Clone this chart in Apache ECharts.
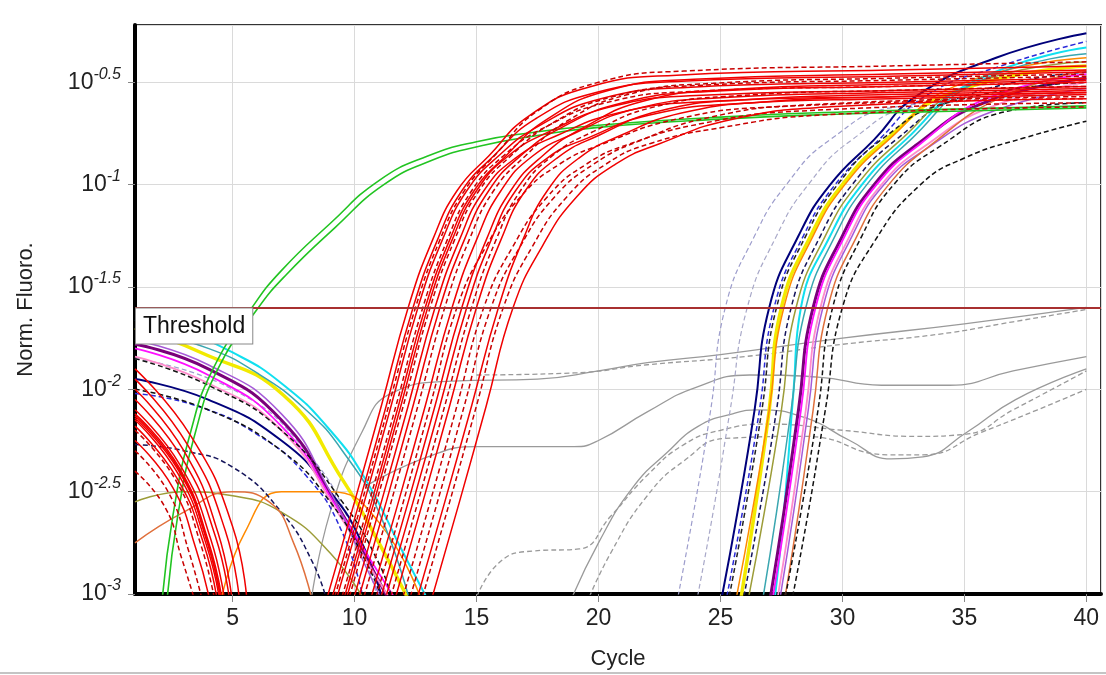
<!DOCTYPE html>
<html>
<head>
<meta charset="utf-8">
<script src="https://cdn.jsdelivr.net/npm/echarts@6/dist/echarts.min.js"></script>
<style>
  html, body { margin: 0; padding: 0; background: #fff; }
  #chart { width: 1106px; height: 675px; }
</style>
</head>
<body>
<div id="chart"></div>
<script>
// values are log10(Norm. Fluoro.); x is the cycle

// threshold level (log10)
const thresholdLevel = -1.603;

// red wells (early Ct): rising part
const redRise = [
  [[8.8,-3.05],[10.0,-2.55],[11.1,-2.08],[12.2,-1.6],[13.2,-1.27],[14.2,-1.03],[15.5,-0.86],[17.2,-0.66],[19.7,-0.52],[23.2,-0.465],[32,-0.44],[40,-0.42]],
  [[9.0,-3.05],[10.2,-2.55],[11.3,-2.08],[12.4,-1.6],[13.4,-1.27],[14.4,-1.03],[15.7,-0.86],[17.4,-0.68],[19.9,-0.55],[23.4,-0.495],[32,-0.47],[40,-0.45]],
  [[9.1,-3.05],[10.3,-2.55],[11.4,-2.08],[12.5,-1.6],[13.5,-1.27],[14.5,-1.03],[15.8,-0.85],[17.5,-0.64],[20,-0.5],[23.5,-0.445],[32,-0.42],[40,-0.40]],
  [[9.2,-3.05],[10.4,-2.55],[11.5,-2.08],[12.6,-1.6],[13.6,-1.27],[14.6,-1.03],[15.9,-0.86],[17.6,-0.71],[20.1,-0.58],[23.6,-0.525],[32,-0.5],[40,-0.48]],
  [[9.4,-3.05],[10.6,-2.55],[11.7,-2.08],[12.8,-1.6],[13.8,-1.27],[14.8,-1.03],[16.1,-0.86],[17.8,-0.72],[20.3,-0.6],[23.8,-0.545],[32,-0.52],[40,-0.50]],
  [[9.5,-3.05],[10.7,-2.55],[11.8,-2.08],[12.9,-1.6],[13.9,-1.27],[14.9,-1.03],[16.2,-0.86],[17.9,-0.68],[20.4,-0.54],[23.9,-0.485],[32,-0.46],[40,-0.44]],
  [[9.6,-3.05],[10.8,-2.55],[11.9,-2.08],[13.0,-1.6],[14.0,-1.27],[15.0,-1.03],[16.3,-0.86],[18,-0.74],[20.5,-0.62],[24,-0.565],[32,-0.54],[40,-0.52]],
  [[9.7,-3.05],[10.9,-2.55],[12.0,-2.08],[13.1,-1.6],[14.1,-1.27],[15.1,-1.03],[16.4,-0.86],[18.1,-0.70],[20.6,-0.57],[24.1,-0.515],[32,-0.49],[40,-0.47]],
  [[9.9,-3.05],[11.1,-2.55],[12.2,-2.08],[13.3,-1.6],[14.3,-1.27],[15.3,-1.03],[16.6,-0.87],[18.3,-0.76],[20.8,-0.65],[24.3,-0.595],[32,-0.57],[40,-0.55]],
  [[10.1,-3.05],[11.3,-2.55],[12.4,-2.08],[13.5,-1.6],[14.5,-1.27],[15.5,-1.03],[16.8,-0.86],[18.5,-0.72],[21,-0.6],[24.5,-0.545],[32,-0.52],[40,-0.5]],
  [[10.3,-3.05],[11.5,-2.55],[12.6,-2.08],[13.7,-1.6],[14.7,-1.27],[15.7,-1.03],[17,-0.86],[18.7,-0.69],[21.2,-0.56],[24.7,-0.505],[32,-0.48],[40,-0.46]],
  [[10.6,-3.05],[11.8,-2.55],[12.9,-2.08],[14.0,-1.6],[15.0,-1.27],[16.0,-1.03],[17.3,-0.86],[19,-0.75],[21.5,-0.63],[25,-0.575],[32,-0.55],[40,-0.53]],
  [[10.8,-3.05],[12.0,-2.55],[13.1,-2.08],[14.2,-1.6],[15.4,-1.3],[16.8,-1.06],[18.4,-0.9],[20.2,-0.8],[23.2,-0.68],[27.2,-0.62],[40,-0.58]],
  [[11.0,-3.05],[12.2,-2.55],[13.3,-2.08],[14.4,-1.6],[15.4,-1.27],[16.4,-1.03],[17.7,-0.86],[19.4,-0.72],[21.9,-0.59],[25.4,-0.535],[32,-0.51],[40,-0.49]],
  [[11.2,-3.05],[12.4,-2.55],[13.5,-2.08],[14.6,-1.6],[15.6,-1.27],[16.6,-1.03],[17.9,-0.87],[19.6,-0.77],[22.1,-0.66],[25.6,-0.605],[32,-0.58],[40,-0.56]],
  [[11.4,-3.05],[12.6,-2.55],[13.7,-2.08],[14.8,-1.6],[15.8,-1.27],[16.8,-1.03],[18.1,-0.86],[19.8,-0.74],[22.3,-0.62],[25.8,-0.565],[32,-0.54],[40,-0.52]],
  [[11.6,-3.05],[12.8,-2.55],[13.9,-2.08],[15.0,-1.6],[16.0,-1.27],[17.0,-1.03],[18.3,-0.87],[20,-0.76],[22.5,-0.64],[26,-0.585],[32,-0.56],[40,-0.54]],
  [[11.9,-3.05],[13.1,-2.55],[14.2,-2.08],[15.3,-1.6],[16.5,-1.3],[17.9,-1.06],[19.5,-0.9],[21.3,-0.8],[24.3,-0.7],[28.3,-0.64],[40,-0.60]],
  [[12.2,-3.05],[13.4,-2.55],[14.5,-2.08],[15.6,-1.6],[16.8,-1.3],[18.2,-1.06],[19.8,-0.9],[21.6,-0.79],[24.6,-0.67],[28.6,-0.61],[40,-0.57]],
  [[12.5,-3.05],[13.7,-2.55],[14.8,-2.08],[15.9,-1.6],[16.9,-1.27],[17.9,-1.03],[19.2,-0.87],[20.9,-0.76],[23.4,-0.65],[26.9,-0.595],[32,-0.57],[40,-0.55]],
  [[12.7,-3.05],[13.9,-2.55],[15.0,-2.08],[16.1,-1.6],[17.3,-1.3],[18.7,-1.06],[20.3,-0.9],[22.1,-0.8],[25.1,-0.72],[29.1,-0.66],[40,-0.62]],
  [[13.1,-3.05],[14.3,-2.55],[15.4,-2.08],[16.5,-1.6],[17.7,-1.3],[19.1,-1.06],[20.7,-0.9],[22.5,-0.8],[25.5,-0.68],[29.5,-0.62],[40,-0.58]]
];

// red wells: falling baseline at the start (null = not visible)
const redFall = [
  [[1,-2.13],[2.8,-2.39],[3.95,-2.74],[4.55,-3.05]],
  [[1,-2.05],[2.95,-2.34],[4.3,-2.72],[4.9,-3.05]],
  [[1,-2.2],[2.65,-2.44],[3.7,-2.76],[4.3,-3.05]],
  [[1,-1.95],[3.15,-2.27],[4.7,-2.69],[5.3,-3.05]],
  null,
  [[1,-2.12],[2.8,-2.38],[4.0,-2.74],[4.6,-3.05]],
  [[1,-2.15],[2.75,-2.41],[3.9,-2.75],[4.5,-3.05]],
  [[1,-2.3],[2.4,-2.51],[3.2,-2.79],[3.8,-3.05]],
  [[1,-2.18],[2.7,-2.43],[3.8,-2.75],[4.4,-3.05]],
  [[1,-1.9],[3.3,-2.23],[5.0,-2.67],[5.6,-3.05]],
  null,
  [[1,-2.1],[2.85,-2.37],[4.1,-2.73],[4.7,-3.05]],
  [[1,-2.4],[2.25,-2.58],[2.9,-2.82],[3.5,-3.05]],
  [[1,-2.14],[2.8,-2.4],[3.95,-2.74],[4.55,-3.05]],
  [[1,-2.0],[3.0,-2.3],[4.4,-2.7],[5.0,-3.05]],
  null,
  [[1,-2.25],[2.55,-2.48],[3.5,-2.78],[4.1,-3.05]],
  null, null, null, null, null
];
const redDashed = [0,0,1,0,1,0,0,1,0,0,1,0,1,0,0,1,0,1,1,0,1,0];

// late wells (Ct 25-30): rising part
const lateRise = [
  [[23.2,-3.05],[23.9,-2.6],[24.6,-2.1],[25.2,-1.6],[26.4,-1.25],[27.7,-1.0],[29.5,-0.78],[32.2,-0.62],[40,-0.55]],
  [[24.0,-3.05],[24.7,-2.6],[25.4,-2.1],[26.1,-1.6],[27.3,-1.25],[28.6,-1.0],[30.4,-0.78],[33,-0.62],[40,-0.56]],
  [[25.0,-3.05],[25.7,-2.6],[26.4,-2.1],[27.0,-1.6],[28.2,-1.25],[29.5,-1.0],[31.3,-0.78],[33,-0.57],[36.3,-0.38],[40,-0.26]],
  [[25.2,-3.05],[25.9,-2.6],[26.6,-2.1],[27.2,-1.6],[28.4,-1.25],[29.7,-1.0],[31.5,-0.78],[33.5,-0.56],[36.5,-0.42],[40,-0.30]],
  [[25.8,-3.05],[26.4,-2.6],[27.0,-2.1],[27.5,-1.6],[28.7,-1.25],[30.0,-1.0],[31.8,-0.78],[34.5,-0.55],[40,-0.42]],
  [[25.6,-3.05],[26.3,-2.6],[27.0,-2.1],[27.6,-1.6],[28.8,-1.25],[30.1,-1.0],[31.9,-0.78],[34.6,-0.52],[40,-0.38]],
  [[25.9,-3.05],[26.6,-2.6],[27.3,-2.1],[27.9,-1.6],[29.1,-1.25],[30.4,-1.0],[32.2,-0.78],[34.9,-0.57],[40,-0.45]],
  [[26.1,-3.05],[26.8,-2.6],[27.5,-2.1],[28.1,-1.6],[29.3,-1.25],[30.6,-1.0],[32.4,-0.78],[35.1,-0.52],[40,-0.40]],
  [[27.2,-3.05],[27.6,-2.6],[28.0,-2.0],[28.3,-1.6],[29.5,-1.25],[30.8,-1.0],[32.6,-0.78],[35.3,-0.5],[40,-0.33]],
  [[26.7,-3.05],[27.3,-2.6],[27.9,-2.1],[28.5,-1.6],[29.7,-1.25],[31.0,-1.0],[32.8,-0.78],[35.5,-0.5],[40,-0.36]],
  [[27.0,-3.05],[27.6,-2.6],[28.2,-2.1],[28.8,-1.6],[30.0,-1.25],[31.3,-1.0],[33.1,-0.8],[35.8,-0.6],[40,-0.48]],
  [[27.1,-3.05],[27.7,-2.6],[28.3,-2.1],[28.9,-1.6],[30.1,-1.25],[31.4,-1.0],[33.2,-0.8],[35.9,-0.58],[40,-0.46]],
  [[27.3,-3.05],[27.9,-2.6],[28.5,-2.1],[29.1,-1.6],[30.3,-1.25],[31.6,-1.0],[33.4,-0.81],[36.1,-0.62],[40,-0.50]],
  [[27.4,-3.05],[28.0,-2.6],[28.6,-2.1],[29.2,-1.6],[30.4,-1.25],[31.7,-1.0],[33.5,-0.82],[36.2,-0.64],[40,-0.53]],
  [[27.6,-3.05],[28.2,-2.6],[28.8,-2.1],[29.4,-1.6],[30.6,-1.25],[31.9,-1.0],[33.7,-0.8],[36.4,-0.58],[40,-0.44]],
  [[27.6,-3.05],[28.3,-2.6],[29.0,-2.1],[29.6,-1.6],[30.8,-1.25],[32.1,-1.0],[33.9,-0.82],[36.8,-0.64],[40,-0.60]],
  [[27.9,-3.05],[28.6,-2.6],[29.3,-2.1],[30.0,-1.6],[31.3,-1.28],[33.2,-1.0],[35,-0.87],[37.5,-0.77],[40,-0.69]],
  [[25.3,-3.05],[26.0,-2.6],[26.7,-2.1],[27.3,-1.6],[28.5,-1.25],[29.8,-1.0],[31.6,-0.78],[34.3,-0.6],[40,-0.5]]
];

// late wells: falling baseline at the start
const lateFall = [
  [[1,-1.85],[5,-2.0],[8,-2.3],[10,-2.7],[11,-3.05]],
  null,
  [[1,-1.95],[4,-2.05],[7,-2.25],[9,-2.5],[10.3,-2.75],[11.2,-3.05]],
  [[1,-2.02],[3.5,-2.08],[6,-2.22],[8,-2.42],[9.5,-2.7],[10.4,-3.05]],
  [[1,-1.7],[3.7,-1.82],[7.1,-2.03],[9.5,-2.44],[11,-2.75],[12.3,-3.05]],
  [[4.5,-3.05],[5.5,-2.7],[7,-2.5],[9,-2.5],[11,-2.65],[12.8,-3.05]],
  [[1,-2.27],[3,-2.3],[5,-2.38],[7,-2.6],[8.3,-2.85],[8.9,-3.05]],
  [[1,-2.55],[3,-2.5],[5,-2.52],[7,-2.6],[9,-2.8],[10.5,-3.05]],
  [[1,-1.66],[3,-1.72],[5,-1.82],[7,-1.97],[9,-2.2],[10.5,-2.45],[12,-2.8],[13.1,-3.05]],
  [[1,-1.70],[4,-1.8],[6,-1.92],[8,-2.1],[9.5,-2.3],[11,-2.6],[12.3,-3.05]],
  [[1,-1.78],[4,-1.9],[7,-2.15],[9.2,-2.55],[10.6,-2.85],[11.5,-3.05]],
  [[1,-1.8],[4,-1.93],[7,-2.18],[9.3,-2.58],[10.9,-2.88],[11.8,-3.05]],
  [[1,-1.84],[4,-1.97],[7,-2.2],[9.3,-2.6],[10.8,-2.9],[11.6,-3.05]],
  [[1,-1.76],[4,-1.88],[7,-2.12],[9,-2.5],[10.4,-2.85],[11.2,-3.05]],
  [[1,-2.75],[3,-2.6],[5,-2.5],[6.5,-2.55],[7.5,-2.75],[8.3,-3.05]],
  [[1,-1.85],[4,-1.98],[7,-2.2],[9.5,-2.55],[11,-2.85],[11.6,-3.05]],
  [[1,-2.0],[4,-2.1],[7,-2.3],[9,-2.55],[10.5,-2.85],[11.2,-3.05]],
  null
];
const lateColors = ['#9d9dcc','#a8a8c8','#00007a','#2b2bd8','#f2ea00','#ff8a00','#14145a','#9c9c38',
  '#10e0f0','#3aa6b0','#7a007a','#ff10ff','#ff8ccc','#a65ad8','#e0703c','#111111','#111111','#222222'];
const lateWidths = [1.2,1.2,2,1.5,3.5,1.5,1.5,1.5,2,1.5,3,1.8,1.8,1.5,1.5,1.5,1.5,1.5];
const lateDashed = [1,1,0,1,0,0,1,0,0,0,0,0,0,0,0,1,1,1];

// green well (early, flat plateau)
const greenCurves = [
  [[2.1,-3.05],[2.55,-2.62],[3.3,-2.2],[4.2,-1.9],[5.8,-1.6],[7,-1.42],[9,-1.19],[11,-0.98],[13,-0.86],[15,-0.79],[17.3,-0.745],[20,-0.71],[25,-0.67],[30,-0.645],[35,-0.63],[40,-0.615]],
  [[2.3,-3.05],[2.75,-2.62],[3.5,-2.2],[4.4,-1.9],[6.0,-1.61],[7.2,-1.44],[9.2,-1.21],[11.2,-1.0],[13.2,-0.88],[15.2,-0.81],[17.5,-0.76],[20,-0.72],[25,-0.68],[30,-0.655],[35,-0.64],[40,-0.625]]
];

// grey negative wells
const grayCurves = [
  [[8.2,-3.05],[9,-2.6],[10.3,-2.21],[11.5,-2.02],[14,-1.96],[17.5,-1.95],[20,-1.91],[22,-1.87],[25,-1.83],[30,-1.75],[35,-1.68],[40,-1.6]],
  [[15,-1.93],[19,-1.92],[22,-1.88],[26,-1.84],[30,-1.78],[34,-1.73],[37,-1.67],[40,-1.61]],
  [[10.5,-2.47],[13,-2.33],[15,-2.28],[19,-2.28],[20,-2.25],[22,-2.11],[24,-1.99],[26.2,-1.93],[29,-1.94],[31.6,-1.98],[34.4,-1.98],[37,-1.91],[40,-1.84]],
  [[18.8,-3.05],[20,-2.75],[21.4,-2.48],[22.8,-2.31],[24.1,-2.18],[25.5,-2.12],[26.5,-2.1],[28.5,-2.14],[30.3,-2.25],[32,-2.34],[33.3,-2.33],[35.1,-2.21],[37.1,-2.05],[40,-1.9]],
  [[14.9,-3.05],[15.9,-2.85],[17.3,-2.79],[19.2,-2.78],[20.5,-2.62],[22,-2.42],[23.5,-2.27],[25,-2.2],[27,-2.17],[30,-2.2],[33,-2.23],[35,-2.22],[37,-2.1],[40,-1.91]],
  [[19.5,-3.05],[20.5,-2.8],[22,-2.52],[23.5,-2.35],[25.2,-2.24],[28.5,-2.23],[31.9,-2.32],[33.3,-2.32],[35.7,-2.21],[38,-2.1],[40,-2.0]]
];
const grayDashed = [0,1,0,0,1,1];

const FONT = '"Liberation Sans", Arial, sans-serif';

function joinParts(fall, rise) {
  return fall ? fall.concat([['-', '-']], rise) : rise;
}

function lineSeries(data, color, width, dashed) {
  return {
    type: 'line',
    data: data,
    showSymbol: false,
    symbol: 'none',
    smooth: 0.5,
    silent: true,
    lineStyle: { color: color, width: width, type: dashed ? [5, 3] : 'solid' }
  };
}

const series = [];
grayCurves.forEach(function (c, i) {
  series.push(lineSeries(c, '#9a9a9a', 1.3, grayDashed[i]));
});
lateRise.forEach(function (c, i) {
  series.push(lineSeries(joinParts(lateFall[i], c), lateColors[i], lateWidths[i], lateDashed[i]));
});
greenCurves.forEach(function (c) {
  series.push(lineSeries(c, '#22c422', 1.6, 0));
});
redRise.forEach(function (c, i) {
  series.push(lineSeries(joinParts(redFall[i], c), redDashed[i] ? '#c80000' : '#f00000', 1.5, redDashed[i]));
});

// threshold line with its label box
series.push({
  type: 'line',
  data: [],
  z: 10,
  markLine: {
    silent: true,
    symbol: 'none',
    lineStyle: { color: '#a83030', width: 2, type: 'solid' },
    data: [{ yAxis: thresholdLevel }],
    label: {
      show: true,
      position: 'insideStartBottom',
      formatter: 'Threshold',
      distance: 1,
      fontFamily: FONT,
      fontSize: 23,
      color: '#111',
      backgroundColor: '#fff',
      borderColor: '#888',
      borderWidth: 1,
      padding: [7, 7, 5, 7]
    }
  }
});

const chart = echarts.init(document.getElementById('chart'), null, { renderer: 'canvas' });
chart.setOption({
  animation: false,
  backgroundColor: '#fff',
  grid: {
    left: 135, right: 5, top: 25, bottom: 81,
    show: true, borderColor: '#333', borderWidth: 2, backgroundColor: '#fff'
  },
  xAxis: {
    type: 'value',
    min: 1, max: 40.6,
    splitNumber: 8, minInterval: 5, maxInterval: 5,
    name: 'Cycle', nameLocation: 'middle', nameGap: 54,
    nameTextStyle: { fontFamily: FONT, fontSize: 22, color: '#222' },
    axisLine: { show: true, onZero: false, lineStyle: { color: '#000', width: 4 } },
    axisTick: { show: true, length: 8, lineStyle: { color: '#888' } },
    axisLabel: { showMinLabel: false, showMaxLabel: false, margin: 13, fontFamily: FONT, fontSize: 23, color: '#222' },
    splitLine: { show: true, lineStyle: { color: '#dadada', width: 1 } }
  },
  yAxis: {
    type: 'value',
    min: -3, max: -0.22, interval: 0.5,
    name: 'Norm. Fluoro.', nameLocation: 'middle', nameGap: 98, nameRotate: 90,
    nameTextStyle: { fontFamily: FONT, fontSize: 22, color: '#222' },
    axisLine: { show: true, onZero: false, lineStyle: { color: '#000', width: 4 } },
    axisTick: { show: true, length: 7, lineStyle: { color: '#888' } },
    axisLabel: {
      showMaxLabel: false,
      margin: 14,
      formatter: function (v) {
        const e = Math.round(v * 10) / 10;
        return '{b|10}{s|' + (Number.isInteger(e) ? String(e) : e.toFixed(1)) + '}';
      },
      rich: {
        b: { fontFamily: FONT, fontSize: 23, color: '#222' },
        s: { fontFamily: FONT, fontSize: 16, fontStyle: 'italic', color: '#222', padding: [0, 0, 16, 0] }
      }
    },
    splitLine: { show: true, lineStyle: { color: '#dadada', width: 1 } }
  },
  graphic: [{
    type: 'line', silent: true,
    shape: { x1: 0, y1: 673, x2: 1106, y2: 673 },
    style: { stroke: '#c4c4c4', lineWidth: 2 }
  }],
  series: series
});
</script>
</body>
</html>
